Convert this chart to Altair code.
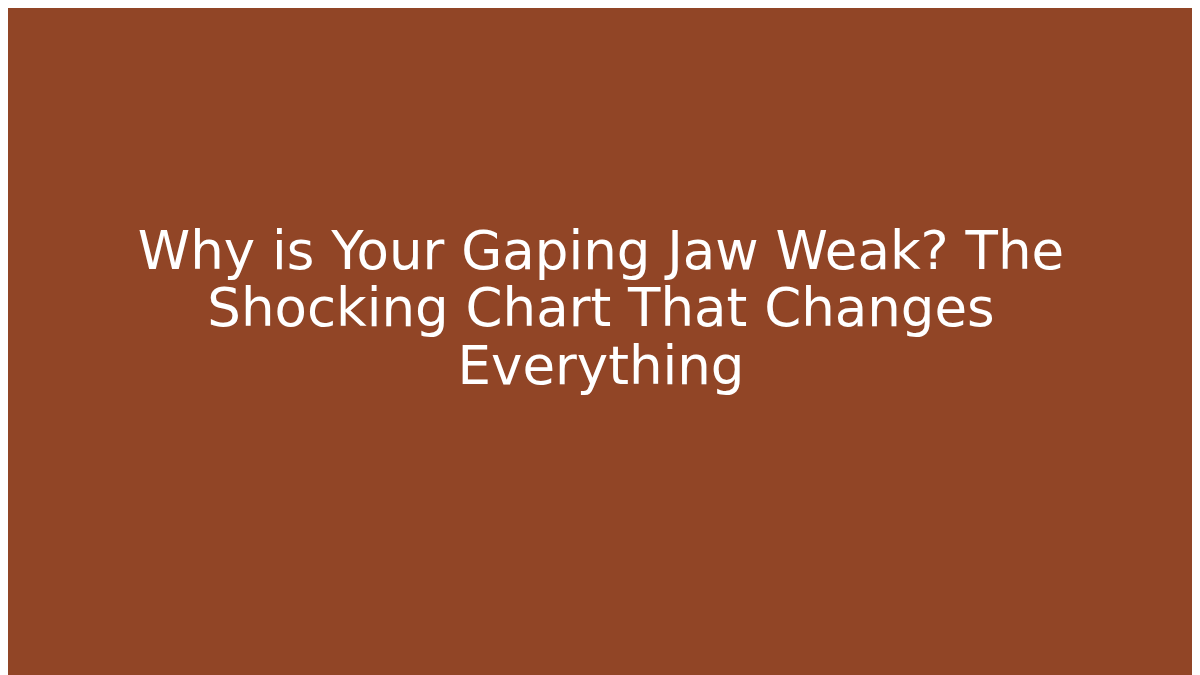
import altair as alt
import pandas as pd

lines = ["Why is Your Gaping Jaw Weak? The", "Shocking Chart That Changes", "Everything"]
bg_color = "#914526"

df = pd.DataFrame({"label": ["\n".join(lines)]})

chart = alt.Chart(df).mark_text(
    font="DejaVu Sans",
    fontSize=53,
    color="white",
    align="center",
    baseline="alphabetic",
    lineBreak="\n",
    lineHeight=57.5,
).encode(
    text="label:N",
    x=alt.value(593),
    y=alt.value(260.5),
).properties(
    width=1184,
    height=667,
    background=bg_color,
    padding=0,
    autosize=alt.AutoSizeParams(type="fit", contains="padding"),
).configure_view(stroke=None)

chart.save("out.html", embed_options={"renderer": "svg", "actions": False})
